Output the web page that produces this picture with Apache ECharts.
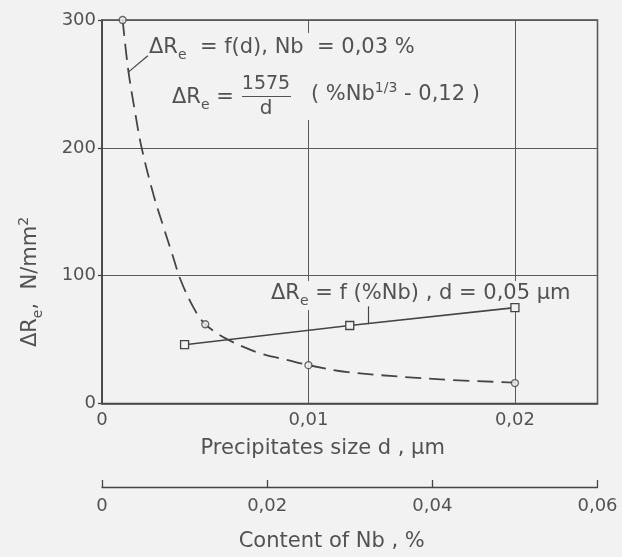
<!DOCTYPE html>
<html><head><meta charset="utf-8">
<script src="https://cdn.jsdelivr.net/npm/echarts@6/dist/echarts.min.js"></script>
<style>html,body{margin:0;padding:0;background:#f2f2f2}#c{width:622px;height:557px}</style>
</head><body><div id="c"></div>
<script>
// dashed curve: ΔRe = f(d), Nb = 0.03 %
const curveD = [0.001, 0.00127, 0.0016, 0.00192, 0.0025, 0.003, 0.0034, 0.0038, 0.0044, 0.005, 0.0061, 0.0077, 0.009, 0.01, 0.0119, 0.0164, 0.02];
const curveR = [300, 261, 228, 200, 163, 137, 117, 97, 76, 62, 50, 39, 34, 30, 24.6, 18.9, 16.4];
// measured points on the dashed curve
const pointD = [0.001, 0.005, 0.01, 0.02];
const pointR = [300, 62, 30, 16];
// solid line: ΔRe = f(%Nb), d = 0.05 µm
const nbPct = [0.01, 0.03, 0.05];
const nbR = [46, 61, 75];
// tick labels
const dTicks = [0, 0.01, 0.02];
const nbTicks = [0, 0.02, 0.04, 0.06];
const yTicks = [0, 100, 200, 300];

const BG = '#f2f2f2', INK = '#454545', TXT = '#525252';
const FONT = 'DejaVu Sans';
const fmt = v => v === 0 ? '0' : v.toFixed(2).replace('.', ',');
const zip = (a, b) => a.map((x, i) => [x, b[i]]);

const richBase = {
  m: {fontSize: 21, fontFamily: FONT, fill: TXT, lineHeight: 28},
  s: {fontSize: 14, fontFamily: FONT, fill: TXT, verticalAlign: 'bottom', lineHeight: 28},
  p: {fontSize: 14, fontFamily: FONT, fill: TXT, verticalAlign: 'top', lineHeight: 28}
};
function rtext(x, y, text, align, extra) {
  return Object.assign({type: 'text', x: x, y: y, z: 5, silent: true,
    style: {text: text, rich: richBase, align: align || 'left', verticalAlign: 'middle', fill: TXT, fontFamily: FONT, fontSize: 21}}, extra || {});
}

const chart = echarts.init(document.getElementById('c'), null, {renderer: 'canvas'});
chart.setOption({
  animation: false,
  backgroundColor: BG,
  textStyle: {fontFamily: FONT, color: TXT},
  grid: {left: 102, right: 24.5, top: 20, bottom: 148.5, show: true, borderColor: INK, borderWidth: 1.5, backgroundColor: 'transparent'},
  xAxis: [{
    type: 'value', min: dTicks[0], max: 0.024, interval: 0.01,
    name: 'Precipitates size d , μm', nameLocation: 'middle', nameGap: 35,
    nameTextStyle: {fontSize: 21, color: TXT, padding: [0, 54, 0, 0]},
    axisLine: {show: true, onZero: false, lineStyle: {color: INK, width: 1.5}},
    axisTick: {show: false},
    axisLabel: {fontSize: 18, color: TXT, margin: 8, showMaxLabel: false,
      formatter: v => dTicks.some(t => Math.abs(t - v) < 1e-9) ? fmt(v) : ''},
    splitLine: {show: true, lineStyle: {color: '#5a5a5a', width: 1}}
  }, {
    type: 'value', min: nbTicks[0], max: nbTicks[nbTicks.length - 1], interval: 0.02,
    position: 'bottom', offset: 83.5,
    name: 'Content of Nb , %', nameLocation: 'middle', nameGap: 44,
    nameTextStyle: {fontSize: 21, color: TXT, padding: [0, 36, 0, 0]},
    axisLine: {show: true, onZero: false, lineStyle: {color: INK, width: 1.3}},
    axisTick: {show: true, inside: true, length: 7, lineStyle: {color: INK, width: 1.3}},
    axisLabel: {fontSize: 18, color: TXT, margin: 10, formatter: fmt},
    splitLine: {show: false}
  }],
  yAxis: {
    type: 'value', min: yTicks[0], max: yTicks[yTicks.length - 1], interval: 100,
    axisLine: {show: true, lineStyle: {color: INK, width: 1.5}},
    axisTick: {show: true, length: 4, lineStyle: {color: INK, width: 1.3}},
    axisLabel: {fontSize: 18, color: TXT, margin: 6},
    splitLine: {show: true, lineStyle: {color: '#5a5a5a', width: 1}}
  },
  graphic: [
    {type: 'rect', z: 1, silent: true, shape: {x: 298, y: 33, width: 20, height: 87}, style: {fill: BG}},
    {type: 'rect', z: 1, silent: true, shape: {x: 268, y: 281, width: 304, height: 29}, style: {fill: BG}},
    rtext(31, 282, '{m|ΔR}{s|e}{m|,  N/mm}{p|2}', 'center', {rotation: Math.PI / 2}),
    rtext(149, 48, '{m|ΔR}{s|e}{m|  = f(d), Nb  = 0,03 %}'),
    rtext(172, 98, '{m|ΔR}{s|e}{m| =}'),
    {type: 'text', z: 5, silent: true, x: 266, y: 84, style: {text: '1575', align: 'center', verticalAlign: 'middle', fontSize: 19, fontFamily: FONT, fill: TXT}},
    {type: 'line', z: 5, silent: true, shape: {x1: 242, y1: 96.5, x2: 291, y2: 96.5}, style: {stroke: TXT, lineWidth: 1.2}},
    {type: 'text', z: 5, silent: true, x: 266, y: 109, style: {text: 'd', align: 'center', verticalAlign: 'middle', fontSize: 20, fontFamily: FONT, fill: TXT}},
    rtext(311, 95, '{m|( %Nb}{p|1/3}{m| - 0,12 )}'),
    rtext(271, 294, '{m|ΔR}{s|e}{m| = f (%Nb) , d = 0,05 μm}')
  ],
  series: [{
    type: 'line', xAxisIndex: 0, yAxisIndex: 0, z: 3,
    data: zip(curveD, curveR), showSymbol: false, smooth: 0.35,
    lineStyle: {color: INK, width: 1.8, type: [16, 8]}, itemStyle: {color: INK},
    markLine: {silent: true, symbol: ['none', 'none'], label: {show: false},
      lineStyle: {color: INK, width: 1.2, type: 'solid'},
      data: [[{coord: [0.00126, 259]}, {coord: [0.00222, 272]}]]}
  }, {
    type: 'scatter', xAxisIndex: 0, yAxisIndex: 0, z: 4,
    data: zip(pointD, pointR), symbol: 'circle', symbolSize: 7,
    itemStyle: {color: BG, borderColor: INK, borderWidth: 1.3}
  }, {
    type: 'line', xAxisIndex: 1, yAxisIndex: 0, z: 4,
    data: zip(nbPct, nbR), symbol: 'rect', symbolSize: 8, showSymbol: true,
    lineStyle: {color: INK, width: 1.6},
    itemStyle: {color: BG, borderColor: INK, borderWidth: 1.3},
    markLine: {silent: true, symbol: ['none', 'none'], label: {show: false},
      lineStyle: {color: INK, width: 1.2, type: 'solid'},
      data: [[{coord: [0.0322, 76]}, {coord: [0.0322, 62]}]]}
  }]
});
</script></body></html>
